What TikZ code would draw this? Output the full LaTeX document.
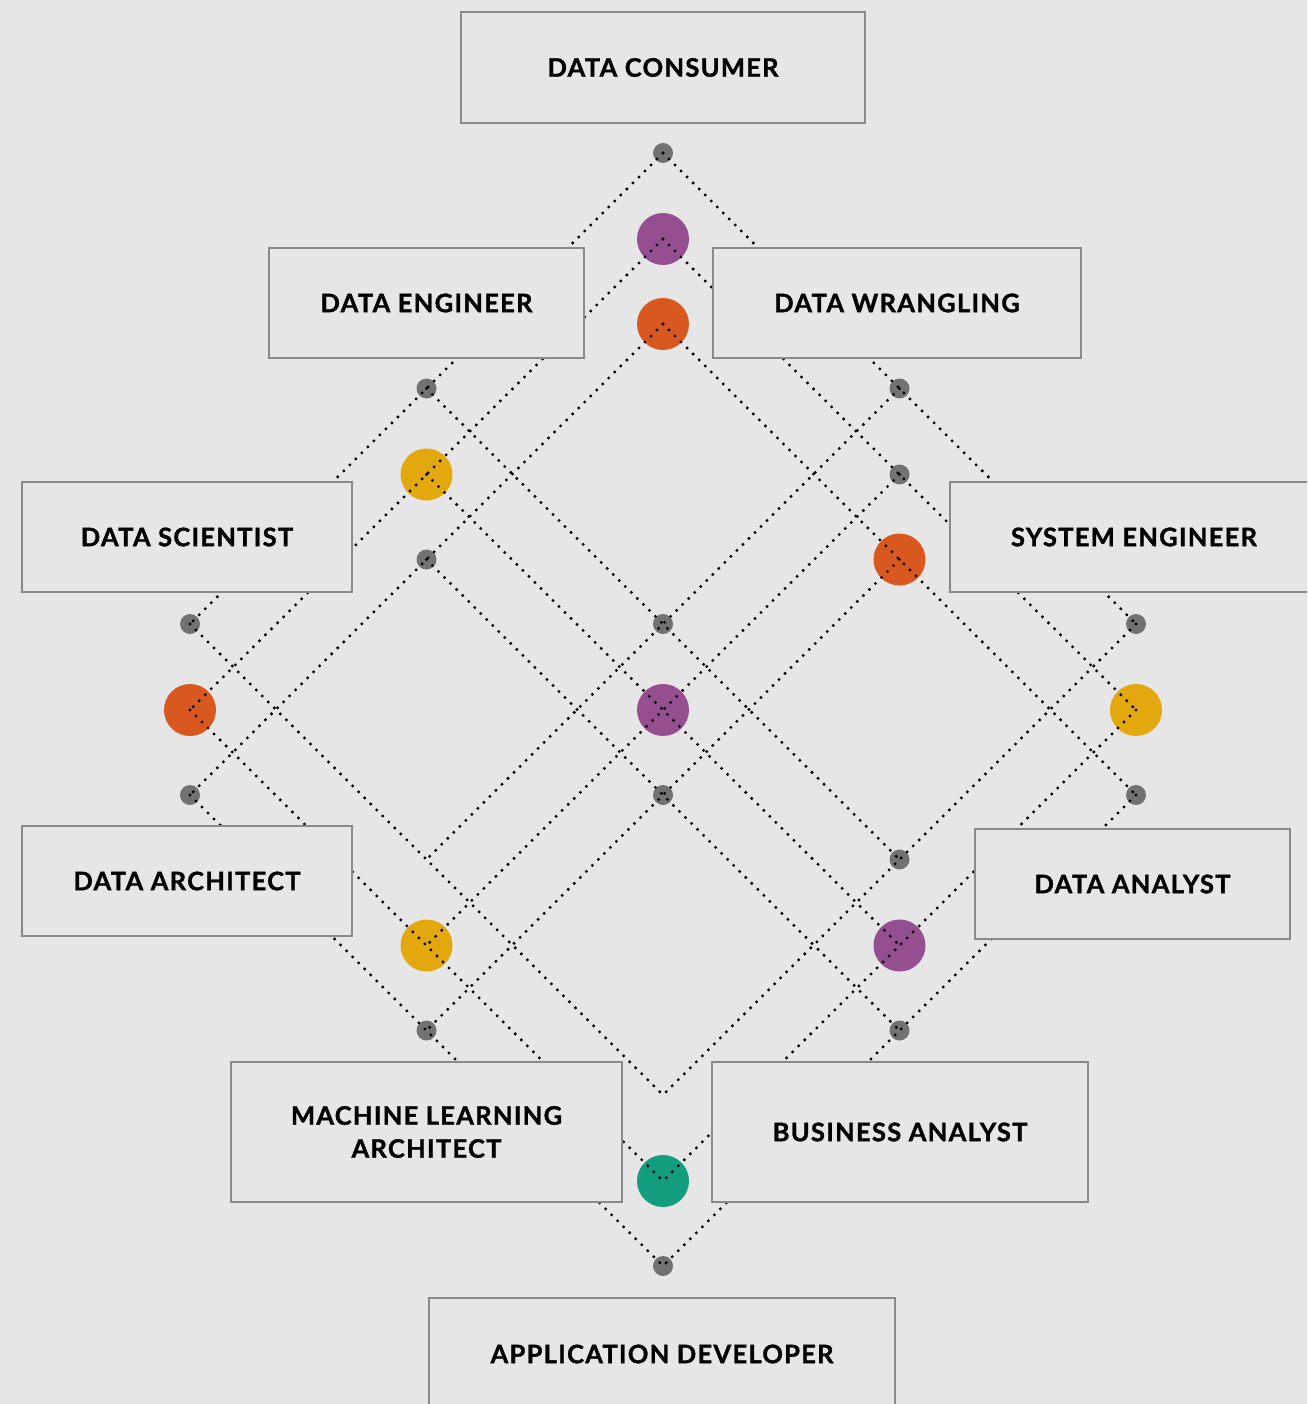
\documentclass[tikz,border=0pt]{standalone}
\usepackage{fontspec}
\setmainfont{Lato}[BoldFeatures={LetterSpace=5,FakeBold=1.2}]
\definecolor{bg}{HTML}{E6E6E6}
\definecolor{edge}{HTML}{8A8A8A}
\definecolor{dotgray}{HTML}{727272}
\definecolor{skpurple}{HTML}{954E90}
\definecolor{skorange}{HTML}{D9581F}
\definecolor{skyellow}{HTML}{E4A80F}
\definecolor{skteal}{HTML}{129E7E}
\tikzset{
  role/.style={draw=edge, fill=bg, line width=2.5pt, minimum height=110pt, align=center,
    font=\fontsize{25.5}{33}\selectfont\bfseries},
  link/.style={line width=3.3pt, line cap=round, dash pattern=on 0pt off 8.5pt},
  hub/.style={circle, fill=dotgray, minimum size=20pt, inner sep=0pt},
  skill/.style={circle, fill=#1, minimum size=52pt, inner sep=0pt},
}
\begin{document}
\begin{tikzpicture}[x=1pt,y=-1pt]
\useasboundingbox (0,0) rectangle (1307,1404);
\clip (0,0) rectangle (1307,1404);
\fill[bg] (0,0) rectangle (1307,1404);
% three stacked diamond grids
\foreach \k/\h in {0/153,1/239,2/324}
  \foreach \i in {0,1,2}
    \foreach \j in {0,1,2}
      \coordinate (p\k\i\j) at ({663+236.5*(\i-\j)},{\h+235.5*(\i+\j)});
% junction dots
\foreach \k/\i/\j in {0/0/0,0/0/1,0/0/2,0/1/0,0/1/1,0/2/0,0/2/1,1/1/0,2/0/1,2/0/2,2/1/1,2/1/2,2/2/0,2/2/1,2/2/2}
  \node[hub] (d\k\i\j) at (p\k\i\j) {};
\foreach \k/\i/\j/\c in {1/0/0/skpurple,1/0/1/skyellow,1/0/2/skorange,1/1/1/skpurple,1/1/2/skyellow,1/2/0/skyellow,1/2/1/skpurple,1/2/2/skteal,2/0/0/skorange,2/1/0/skorange}
  \node[skill=\c] (d\k\i\j) at (p\k\i\j) {};
% dotted grid lines
\foreach \k in {0,1,2}
  \foreach \m in {0,1,2} {
    \draw[link] (p\k\m0) -- (p\k\m2);
    \draw[link] (p\k0\m) -- (p\k2\m);
  }
% roles
\node[role, minimum width=404pt, minimum height=111pt] (consumer) at (663,67.5) {DATA CONSUMER};
\node[role, minimum width=315pt] (engineer) at (426.5,303) {DATA ENGINEER};
\node[role, minimum width=368pt] (wrangling) at (897,303) {DATA WRANGLING};
\node[role, minimum width=330pt] (scientist) at (187,537) {DATA SCIENTIST};
\node[role, minimum width=368pt] (sysengineer) at (1134,537) {SYSTEM ENGINEER};
\node[role, minimum width=330pt] (architect) at (187,881) {DATA ARCHITECT};
\node[role, minimum width=315pt] (analyst) at (1132.5,884) {DATA ANALYST};
\node[role, minimum width=391pt, minimum height=140pt] (mlarchitect) at (426.5,1132) {MACHINE LEARNING\\ARCHITECT};
\node[role, minimum width=376pt, minimum height=140pt] (business) at (900,1132) {BUSINESS ANALYST};
\node[role, minimum width=466pt, minimum height=112pt] (appdev) at (662,1354) {APPLICATION DEVELOPER};
\end{tikzpicture}
\end{document}
